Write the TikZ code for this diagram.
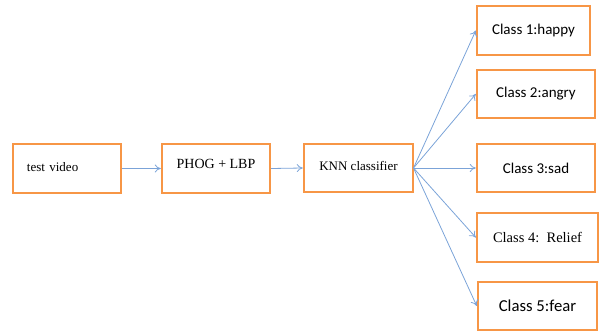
\documentclass[tikz,border=0pt]{standalone}
\usepackage{fontspec}
\setmainfont{Liberation Serif}
\newfontfamily\calib{Carlito}
\usetikzlibrary{arrows.meta}
\definecolor{boxorange}{HTML}{F79646}
\definecolor{arrblue}{HTML}{7BA3D8}
\begin{document}
\begin{tikzpicture}[x=1pt,y=-1pt,
  stagebox/.style={draw=boxorange, line width=2.4pt, fill=white, inner sep=0pt, font=\fontsize{13}{15}\selectfont},
  classbox/.style={stagebox, font=\calib\fontsize{15}{17}\selectfont},
  conn/.style={draw=arrblue, line width=0.8pt, -{To[length=6pt,width=8pt]}}]
\useasboundingbox (0,0) rectangle (600,332);
\node[stagebox, minimum width=108pt, minimum height=49pt, text width=80pt, align=left] (tv) at (67,168.5) {\raisebox{3pt}{test video}};
\node[stagebox, minimum width=108pt, minimum height=49pt, align=center, font=\fontsize{14}{16}\selectfont] (pl) at (216,168.5) {\raisebox{10pt}{PHOG + LBP}};
\node[stagebox, minimum width=109pt, minimum height=48pt, align=center] (knn) at (358.5,168) {\raisebox{4pt}{KNN classifier}};
\node[classbox, minimum width=113pt, minimum height=49pt] (c1) at (533.5,30.5) {Class 1:happy};
\node[classbox, minimum width=118pt, minimum height=48pt] (c2) at (536,94) {Class 2:angry};
\node[classbox, minimum width=118pt, minimum height=48pt] (c3) at (536,168) {Class 3:sad};
\node[stagebox, minimum width=121pt, minimum height=49pt, font=\fontsize{14.5}{16}\selectfont] (c4) at (537.5,237.5) {\raisebox{-1pt}{Class 4:\ \ Relief}};
\node[classbox, minimum width=119pt, minimum height=48pt, font=\calib\fontsize{16.7}{19}\selectfont] (c5) at (537.5,306) {Class 5:fear};
\coordinate (kout) at (413.5,168);
\draw[conn] (tv.east) -- (pl.west);
\draw[conn] (pl.east) -- (knn.west);
\draw[conn] (kout) -- (c1.west);
\draw[conn] (kout) -- (c2.west);
\draw[conn] (kout) -- (c3.west);
\draw[conn] (kout) -- (c4.west);
\draw[conn] (kout) -- (c5.west);
\end{tikzpicture}
\end{document}
